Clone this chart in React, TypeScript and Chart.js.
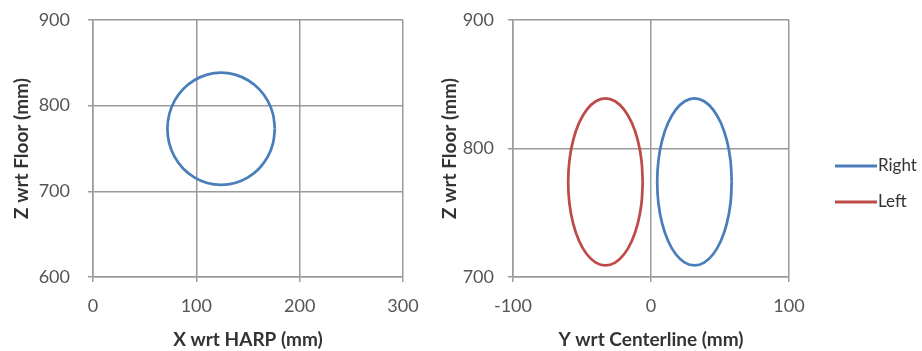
import React, { useEffect, useRef } from "react";
import { Chart, registerables } from "chart.js";

Chart.register(...registerables);

// ---- Data ----
// Left panel: X wrt HARP vs Z wrt Floor (single loop)
const harpX = [176, 174.2, 169, 160.8, 150, 137.5, 124, 110.5, 98, 87.2, 79, 73.8, 72, 73.8, 79, 87.2, 98, 110.5, 124, 137.5, 150, 160.8, 169, 174.2, 176];
const harpZ = [773, 790, 805.8, 819.3, 829.7, 836.3, 838.5, 836.3, 829.7, 819.3, 805.8, 790, 773, 756, 740.2, 726.7, 716.3, 709.7, 707.5, 709.7, 716.3, 726.7, 740.2, 756, 773];

// Right panel: Y wrt Centerline vs Z wrt Floor
const rightSideY = [58.5, 57.6, 54.9, 50.6, 45, 38.5, 31.5, 24.5, 18, 12.4, 8.1, 5.4, 4.5, 5.4, 8.1, 12.4, 18, 24.5, 31.5, 38.5, 45, 50.6, 54.9, 57.6, 58.5];
const rightSideZ = [774, 790.8, 806.5, 820, 830.3, 836.8, 839, 836.8, 830.3, 820, 806.5, 790.8, 774, 757.2, 741.5, 728, 717.7, 711.2, 709, 711.2, 717.7, 728, 741.5, 757.2, 774];
const leftSideY = [-6, -6.9, -9.6, -13.9, -19.5, -26, -33, -40, -46.5, -52.1, -56.4, -59.1, -60, -59.1, -56.4, -52.1, -46.5, -40, -33, -26, -19.5, -13.9, -9.6, -6.9, -6];
const leftSideZ = [774, 790.8, 806.5, 820, 830.3, 836.8, 839, 836.8, 830.3, 820, 806.5, 790.8, 774, 757.2, 741.5, 728, 717.7, 711.2, 709, 711.2, 717.7, 728, 741.5, 757.2, 774];

const seriesNames = ["Right", "Left"];
const seriesColors = ["#4A7EBB", "#BE4B48"];

const harpTicks = [0, 100, 200, 300];
const floorTicksA = [600, 700, 800, 900];
const centerTicks = [-100, 0, 100];
const floorTicksB = [700, 800, 900];

const titleX1 = "X wrt HARP (mm)";
const titleX2 = "Y wrt Centerline (mm)";
const titleZ = "Z wrt Floor (mm)";

// ---- Styling ----
const FONT = "Lato, 'Liberation Sans', sans-serif";
const GRID = "#9a9a9a";
const TICK_COLOR = "#555555";
const TITLE_COLOR = "#333333";
const H = 351;

const zip = (xs: number[], ys: number[]) => xs.map((x, i) => ({ x, y: ys[i] }));

function makeScales(opts: {
  xTicks: number[]; yTicks: number[]; xTitle: string; yTitle: string; xTitleSize: number;
  areaLeft: number; areaBottom: number; yPad: number; yTitlePad: number;
}) {
  const grid = { color: GRID, lineWidth: 1.5, tickLength: 5, drawTicks: true, tickColor: GRID };
  const border = { display: true, color: GRID, width: 1.5 };
  return {
    x: {
      type: "linear",
      min: opts.xTicks[0],
      max: opts.xTicks[opts.xTicks.length - 1],
      afterBuildTicks: (s: any) => { s.ticks = opts.xTicks.map((v) => ({ value: v })); },
      afterFit: (s: any) => { s.height = H - opts.areaBottom; s.paddingLeft = 0; s.paddingRight = 0; },
      grid, border,
      ticks: { color: TICK_COLOR, font: { family: FONT, size: 18 }, padding: 13, maxRotation: 0 },
      title: { display: true, text: opts.xTitle, color: TITLE_COLOR, font: { family: FONT, size: opts.xTitleSize, weight: "bold" }, padding: { top: 0, bottom: 0 } },
    },
    y: {
      type: "linear",
      min: opts.yTicks[0],
      max: opts.yTicks[opts.yTicks.length - 1],
      afterBuildTicks: (s: any) => { s.ticks = opts.yTicks.map((v) => ({ value: v })); },
      afterFit: (s: any) => { s.width = opts.areaLeft; s.paddingTop = 0; s.paddingBottom = 0; },
      grid, border,
      ticks: { color: TICK_COLOR, font: { family: FONT, size: 18 }, padding: opts.yPad },
      title: { display: true, text: opts.yTitle, color: TITLE_COLOR, font: { family: FONT, size: 19, weight: "bold" }, padding: { top: opts.yTitlePad, bottom: 0 } },
    },
  };
}

const sideLegend = {
  id: "sideLegend",
  afterDraw(chart: any) {
    const { ctx, chartArea } = chart;
    const x0 = chartArea.right + 46;
    chart.data.datasets.forEach((ds: any, i: number) => {
      const y = 166 + i * 36;
      ctx.save();
      ctx.strokeStyle = ds.borderColor;
      ctx.lineWidth = 3;
      ctx.beginPath();
      ctx.moveTo(x0, y);
      ctx.lineTo(x0 + 42, y);
      ctx.stroke();
      ctx.fillStyle = "#333333";
      ctx.font = `17px ${FONT}`;
      ctx.textBaseline = "middle";
      ctx.textAlign = "left";
      ctx.fillText(ds.label, x0 + 43, y);
      ctx.restore();
    });
  },
};

function lineDataset(label: string, color: string, pts: { x: number; y: number }[]) {
  return {
    label,
    data: pts,
    showLine: true,
    borderColor: color,
    backgroundColor: color,
    borderWidth: 2.75,
    pointRadius: 0,
    pointHoverRadius: 0,
    tension: 0.4,
    fill: false,
  };
}

export default function App() {
  const leftRef = useRef<HTMLCanvasElement | null>(null);
  const rightRef = useRef<HTMLCanvasElement | null>(null);

  useEffect(() => {
    document.body.style.margin = "0";
    const c1 = new Chart(leftRef.current as HTMLCanvasElement, {
      type: "scatter",
      data: { datasets: [lineDataset(seriesNames[0], seriesColors[0], zip(harpX, harpZ))] },
      options: {
        animation: false,
        responsive: false,
        devicePixelRatio: 1,
        layout: { padding: { top: 20, right: 27, bottom: 0, left: 0 } },
        plugins: { legend: { display: false }, tooltip: { enabled: false } },
        scales: makeScales({ xTicks: harpTicks, yTicks: floorTicksA, xTitle: titleX1, yTitle: titleZ, xTitleSize: 19, areaLeft: 93, areaBottom: 277, yPad: 18, yTitlePad: 10.5 }) as any,
      },
    });
    const c2 = new Chart(rightRef.current as HTMLCanvasElement, {
      type: "scatter",
      data: {
        datasets: [
          lineDataset(seriesNames[0], seriesColors[0], zip(rightSideY, rightSideZ)),
          lineDataset(seriesNames[1], seriesColors[1], zip(leftSideY, leftSideZ)),
        ],
      },
      options: {
        animation: false,
        responsive: false,
        devicePixelRatio: 1,
        layout: { padding: { top: 20, right: 133, bottom: 0, left: 0 } },
        plugins: { legend: { display: false }, tooltip: { enabled: false } },
        scales: makeScales({ xTicks: centerTicks, yTicks: floorTicksB, xTitle: titleX2, yTitle: titleZ, xTitleSize: 19, areaLeft: 77, areaBottom: 277, yPad: 14, yTitlePad: 2.5 }) as any,
      },
      plugins: [sideLegend],
    });
    return () => { c1.destroy(); c2.destroy(); };
  }, []);

  return (
    <div style={{ position: "fixed", left: 0, top: 0, width: 922, height: H, background: "#fff" }}>
      <canvas ref={leftRef} width={430} height={H} style={{ position: "absolute", left: 0, top: 0, width: 430, height: H }} />
      <canvas ref={rightRef} width={486} height={H} style={{ position: "absolute", left: 436, top: 0, width: 486, height: H }} />
    </div>
  );
}
